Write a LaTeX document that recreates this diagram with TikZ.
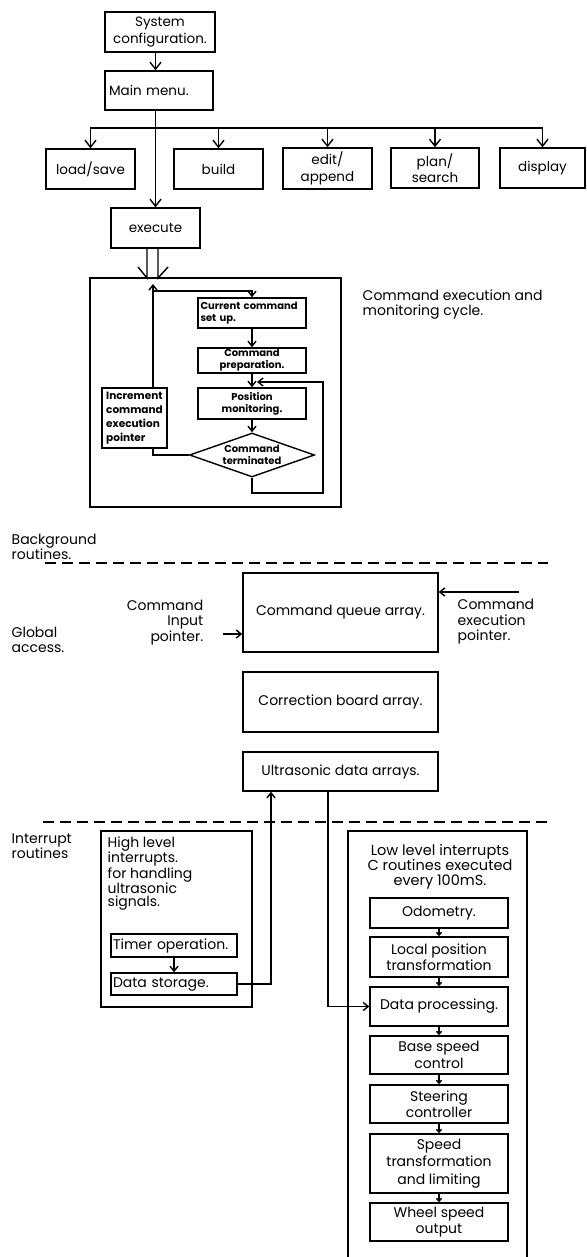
\documentclass[tikz,border=0pt]{standalone}
\usepackage{fontspec}
\setmainfont{Poppins}
\usetikzlibrary{shapes.geometric,arrows.meta}

\begin{document}
\begin{tikzpicture}[x=1pt,y=-1pt,line width=1.4pt,
  >={Straight Barb[length=7pt,width=11pt]},
  box/.style={draw,inner sep=2pt,align=center,font=\fontsize{13.5}{16.5}\selectfont},
  cyclebox/.style={draw,inner sep=1.5pt,align=center,font=\fontsize{10}{12}\selectfont\bfseries},
  lowbox/.style={draw,minimum width=138,inner sep=2pt,align=center,font=\fontsize{14}{16.5}\selectfont},
  txt/.style={inner sep=0pt,font=\fontsize{14}{15.5}\selectfont},
  midtip/.style={-{Straight Barb[length=5pt,width=8pt]}},
  tinytip/.style={-{Straight Barb[length=3pt,width=5pt]}}]
  \useasboundingbox (0,0) rectangle (586,1257);

  % menu level
  \node[box,minimum width=110,minimum height=40] (sysconf) at (160,32) {System\\configuration.};
  \node[box,minimum width=108,minimum height=39,text width=100,align=left] (mainmenu) at (159,90.5) {Main menu.};
  \node[box,minimum width=89,minimum height=40] (loadsave) at (90.5,169) {load/save};
  \node[box,minimum width=89,minimum height=40] (build) at (218.5,169) {build};
  \node[box,minimum width=89,minimum height=41] (editappend) at (327.5,168.5) {edit/\\append};
  \node[box,minimum width=88,minimum height=40] (plansearch) at (435,168) {plan/\\search};
  \node[box,minimum width=85,minimum height=40] (display) at (542.5,168) {display};
  \node[box,minimum width=89,minimum height=40] (execute) at (155.5,228) {execute};
  \coordinate (bus) at (155.5,128);

  \path[->]
    (sysconf.south -| execute.north) edge (execute.north |- mainmenu.north)
    (mainmenu.south -| execute.north) edge (execute.north);
  \draw[->] (bus) -| (loadsave);
  \draw[->] (bus) -| (build);
  \draw[->] (bus) -| (editappend);
  \draw[->] (bus) -| (plansearch);
  \draw[->] (bus) -| (display);

  % command execution and monitoring cycle
  \node[draw,minimum width=251,minimum height=229] (cycle) at (215.5,392.5) {};
  \node[txt,anchor=north west,align=left] (cyclelbl) at (362,289) {Command execution and\\monitoring cycle.};
  \coordinate (dl) at (147,278);
  \coordinate (dr) at (158,278);
  \draw (execute.south -| dl) -- (dl) -- ++(-9,-11);
  \draw (execute.south -| dr) -- (dr) -- ++(10,-11);

  \node[cyclebox,minimum width=108,minimum height=30,text width=103,align=left] (current) at (252,313) {Current command\\set up.};
  \node[cyclebox,minimum width=108,minimum height=25] (prep) at (252,360.5) {Command\\preparation.};
  \node[cyclebox,minimum width=108,minimum height=31] (posmon) at (252,403.5) {Position\\monitoring.};
  \node[draw,diamond,aspect=2.84,minimum width=125,minimum height=44,inner sep=0pt,
        font=\fontsize{10}{12}\selectfont\bfseries,align=center] (term) at (252,455) {Command\\terminated};
  \node[cyclebox,minimum width=65,minimum height=60,align=left,inner sep=1pt,
        font=\fontsize{10.5}{14}\selectfont\bfseries] (incr) at (134.5,418) {Increment\\command\\execution\\pointer};

  \coordinate (loopx) at (153,291);
  \coordinate (loopend) at (153,284);
  \coordinate (fbr) at (323,493);
  \coordinate (fbin) at (257,382);
  \draw (term.west) -| (incr.south -| loopx);
  \draw[midtip] (incr.north -| loopx) -- (loopend);
  \draw[midtip] (loopx) -| (current);
  \path[midtip]
    (current) edge (prep)
    (prep) edge (posmon)
    (posmon) edge (term);
  \draw[midtip] (term.south) |- (fbr) |- (fbin);

  % background routines / global access
  \node[txt,anchor=north west,align=left] (bglbl) at (11,533) {Background\\routines.};
  \coordinate (dashal) at (45,563);
  \coordinate (dashar) at (548,563);
  \draw[dash pattern=on 11pt off 6pt] (dashal) -- (dashar);
  \node[txt,anchor=north west,align=left] (globallbl) at (11,626) {Global\\access.};

  \node[box,font=\fontsize{14}{16}\selectfont,minimum width=195,minimum height=79] (queue) at (340.5,612.5) {Command queue array.};
  \node[txt,anchor=east,align=right] (inptr) at (204,622.5) {Command\\Input\\pointer.};
  \node[txt,anchor=west,align=left] (exptr) at (457,622) {Command\\execution\\pointer.};
  \coordinate (inarr) at (223,634);
  \coordinate (exarr) at (519,592);
  \draw[midtip] (inarr) -- (inarr -| queue.west);
  \draw[midtip] (exarr) -- (exarr -| queue.east);

  \node[box,font=\fontsize{14}{16}\selectfont,minimum width=195,minimum height=60] (correction) at (340.5,702) {Correction board array.};
  \node[box,font=\fontsize{14}{16}\selectfont,minimum width=195,minimum height=39] (ultra) at (340.5,771.5) {Ultrasonic data arrays.};

  % interrupt routines
  \coordinate (dashbl) at (43,822);
  \coordinate (dashbr) at (547,822);
  \draw[dash pattern=on 11pt off 6pt] (dashbl) -- (dashbr);
  \node[txt,anchor=north west,align=left] (irqlbl) at (11,833) {Interrupt\\routines};

  \node[draw,minimum width=151,minimum height=176] (high) at (176.5,919) {};
  \node[txt,anchor=north west,align=left,font=\fontsize{14}{13.4}\selectfont] (hightxt) at (107,836) {High level\\interrupts.\\for handling\\ultrasonic\\signals.};
  \node[box,font=\fontsize{14}{16}\selectfont,minimum width=126,minimum height=23,text width=122,inner sep=1.5pt,align=left] (timer) at (174,945.5) {Timer operation.};
  \node[box,font=\fontsize{14}{16}\selectfont,minimum width=126,minimum height=22,text width=122,inner sep=1.5pt,align=left] (storage) at (174,984) {Data storage.};
  \draw[midtip] (timer) -- (storage);

  \coordinate (upx) at (271,984);
  \coordinate (downx) at (328,1257);
  \draw[midtip] (storage.east) -| (upx |- ultra.south);

  \draw (348,1257) -- (348,831) -- (527,831) -- (527,1257);
  \node[txt,anchor=north,align=center,font=\fontsize{14.5}{15}\selectfont] (lowtxt) at (440,844) {Low level interrupts\\C routines executed\\every 100mS.};

  \node[lowbox,minimum height=30] (odometry) at (439,913) {Odometry.};
  \node[lowbox,minimum height=40] (localpos) at (439,957) {Local position\\transformation};
  \node[lowbox,minimum height=39] (dataproc) at (439,1006.5) {Data processing.};
  \node[lowbox,minimum height=38] (basespeed) at (439,1055) {Base speed\\control};
  \node[lowbox,minimum height=38] (steering) at (439,1104) {Steering\\controller};
  \node[lowbox,minimum height=59,font=\fontsize{14}{17.5}\selectfont] (speedtr) at (439,1163.5) {Speed\\transformation\\and limiting};
  \node[lowbox,minimum height=38] (wheel) at (439,1222) {Wheel speed\\output};

  \draw[midtip] (ultra.south -| downx) |- (dataproc.west);
  \path[tinytip]
    (odometry) edge (localpos)
    (localpos) edge (dataproc)
    (dataproc) edge (basespeed)
    (basespeed) edge (steering)
    (steering) edge (speedtr)
    (speedtr) edge (wheel);
\end{tikzpicture}
\end{document}
